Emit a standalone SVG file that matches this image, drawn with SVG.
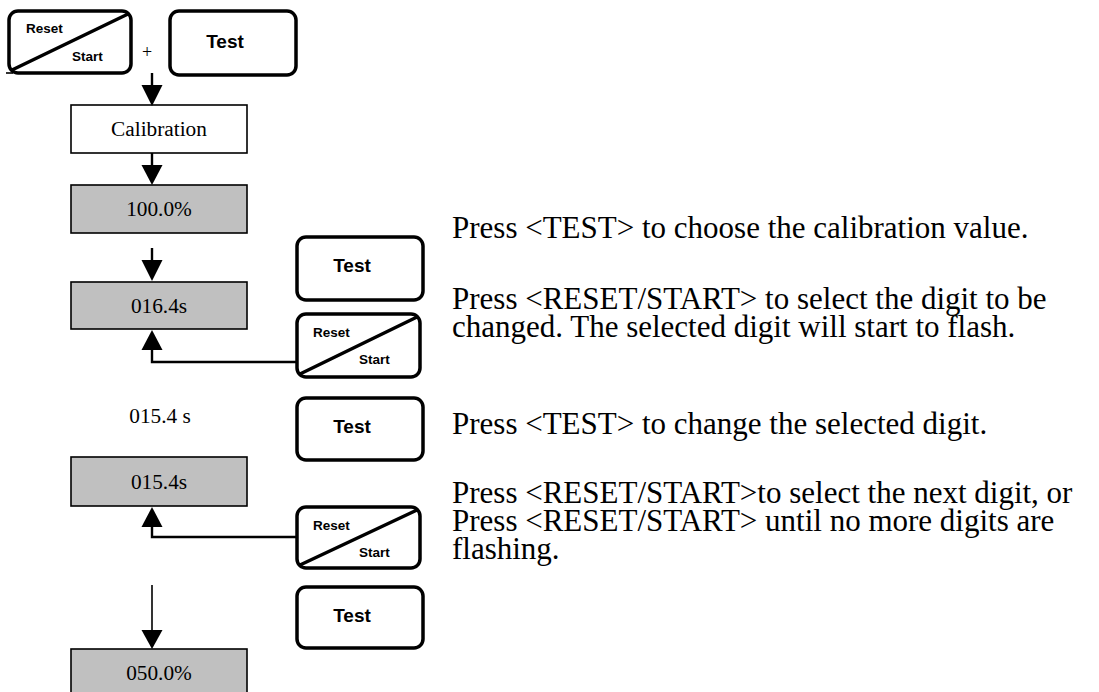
<svg xmlns="http://www.w3.org/2000/svg" width="1099" height="692" viewBox="0 0 1099 692">
  <defs>
    <style>
      .btn { fill: #ffffff; stroke: #000000; stroke-width: 3.5; }
      .diag { stroke: #000000; stroke-width: 3.5; stroke-linecap: round; }
      .btn-big { font-family: "Liberation Sans", Arial, sans-serif; font-weight: bold; font-size: 19px; fill: #000; }
      .btn-small { font-family: "Liberation Sans", Arial, sans-serif; font-weight: bold; font-size: 13.5px; fill: #000; }
      .box { stroke: #000000; stroke-width: 1.6; }
      .plain { fill: #ffffff; }
      .disp { fill: #c0c0c0; }
      .lbl { font-family: "Liberation Serif", "Times New Roman", serif; font-size: 21.3px; fill: #000; text-anchor: middle; }
      .note { font-family: "Liberation Serif", "Times New Roman", serif; font-size: 31px; fill: #000; }
      .wire { fill: none; stroke: #000000; stroke-width: 2.4; }
      .wire-thin { fill: none; stroke: #000000; stroke-width: 1.6; }
      .head { fill: #000000; }
    </style>
  </defs>

  <!-- Key combination at power-up -->
  <g id="btn-reset-start-1">
    <rect class="btn" x="9" y="11" width="122" height="62" rx="9"/>
    <line class="diag" x1="12" y1="70" x2="128" y2="14"/>
    <line class="wire-thin" x1="6" y1="73" x2="13" y2="73"/>
    <text class="btn-small" x="26" y="33">Reset</text>
    <text class="btn-small" x="72" y="61">Start</text>
  </g>
  <text id="plus" x="147" y="58" font-family="Liberation Serif, serif" font-size="18" text-anchor="middle">+</text>
  <g id="btn-test-1">
    <rect class="btn" x="170" y="11" width="126" height="64" rx="9"/>
    <text class="btn-big" x="225" y="48" text-anchor="middle">Test</text>
  </g>

  <!-- Display states -->
  <g id="box-calibration">
    <rect class="box plain" x="71" y="105" width="176" height="48"/>
    <text class="lbl" x="159" y="136">Calibration</text>
  </g>
  <g id="box-100">
    <rect class="box disp" x="71" y="185" width="176" height="48"/>
    <text class="lbl" x="159" y="216">100.0%</text>
  </g>
  <g id="box-016">
    <rect class="box disp" x="71" y="282" width="176" height="47"/>
    <text class="lbl" x="159" y="313">016.4s</text>
  </g>
  <g id="label-015">
    <text class="lbl" x="160" y="423">015.4 s</text>
  </g>
  <g id="box-015">
    <rect class="box disp" x="71" y="457" width="176" height="49"/>
    <text class="lbl" x="159" y="489">015.4s</text>
  </g>
  <g id="box-050">
    <rect class="box disp" x="71" y="649" width="176" height="48"/>
    <text class="lbl" x="159" y="680">050.0%</text>
  </g>

  <!-- Keys beside the flow -->
  <g id="btn-test-2">
    <rect class="btn" x="297" y="237" width="126" height="63" rx="9"/>
    <text class="btn-big" x="352" y="272" text-anchor="middle">Test</text>
  </g>
  <g id="btn-reset-start-2">
    <rect class="btn" x="297" y="314" width="123" height="63" rx="9"/>
    <line class="diag" x1="300" y1="374" x2="417" y2="317"/>
    <text class="btn-small" x="313" y="337">Reset</text>
    <text class="btn-small" x="359" y="364">Start</text>
  </g>
  <g id="btn-test-3">
    <rect class="btn" x="297" y="398" width="126" height="62" rx="9"/>
    <text class="btn-big" x="352" y="433" text-anchor="middle">Test</text>
  </g>
  <g id="btn-reset-start-3">
    <rect class="btn" x="297" y="507" width="123" height="61" rx="9"/>
    <line class="diag" x1="300" y1="565" x2="417" y2="510"/>
    <text class="btn-small" x="313" y="530">Reset</text>
    <text class="btn-small" x="359" y="557">Start</text>
  </g>
  <g id="btn-test-4">
    <rect class="btn" x="297" y="587" width="126" height="61" rx="9"/>
    <text class="btn-big" x="352" y="622" text-anchor="middle">Test</text>
  </g>

  <!-- Connectors -->
  <g id="connectors">
    <line class="wire" x1="152" y1="73" x2="152" y2="86"/>
    <polygon class="head" points="141.5,85 162.5,85 152,106"/>
    <line class="wire" x1="152" y1="153" x2="152" y2="166"/>
    <polygon class="head" points="141.5,165 162.5,165 152,185"/>
    <line class="wire" x1="152" y1="248" x2="152" y2="261"/>
    <polygon class="head" points="141.5,260 162.5,260 152,281"/>
    <polyline class="wire" points="297,362 152,362 152,349"/>
    <polygon class="head" points="141.5,350 162.5,350 152,330"/>
    <polyline class="wire" points="297,537 152,537 152,526"/>
    <polygon class="head" points="141.5,527 162.5,527 152,507"/>
    <line class="wire-thin" x1="152" y1="585" x2="152" y2="631"/>
    <polygon class="head" points="141.5,630 162.5,630 152,649"/>
  </g>

  <!-- Instructions -->
  <g id="notes">
    <text class="note" x="452" y="238">Press &lt;TEST&gt; to choose the calibration value.</text>
    <text class="note" x="452" y="309">Press &lt;RESET/START&gt; to select the digit to be</text>
    <text class="note" x="452" y="337">changed. The selected digit will start to flash.</text>
    <text class="note" x="452" y="434">Press &lt;TEST&gt; to change the selected digit.</text>
    <text class="note" x="452" y="503">Press &lt;RESET/START&gt;to select the next digit, or</text>
    <text class="note" x="452" y="531">Press &lt;RESET/START&gt; until no more digits are</text>
    <text class="note" x="452" y="559">flashing.</text>
  </g>
</svg>
